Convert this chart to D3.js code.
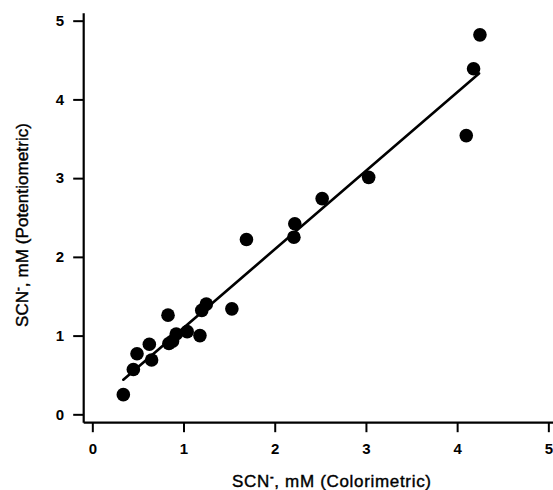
<!DOCTYPE html>
<html>
<head>
<meta charset="utf-8">
<script src="https://cdn.jsdelivr.net/npm/d3@7"></script>
<style>
  html, body { margin: 0; padding: 0; background: #fff; }
  svg { display: block; }
  text { font-family: "Liberation Sans", Arial, Helvetica, sans-serif; fill: #000; }
</style>
</head>
<body>
<svg id="chart" width="553" height="490"></svg>
<script>
// Data
const colorimetric = [0.34, 0.45, 0.49, 0.625, 0.65, 0.83, 0.84, 0.88, 0.92, 1.04, 1.18, 1.20, 1.25, 1.53, 1.69, 2.21, 2.22, 2.52, 3.03, 4.10, 4.18, 4.25];
const potentiometric = [0.25, 0.57, 0.77, 0.89, 0.69, 1.26, 0.90, 0.93, 1.02, 1.05, 1.00, 1.32, 1.40, 1.34, 2.22, 2.25, 2.42, 2.74, 3.01, 3.54, 4.39, 4.82];
const fitX = [0.34, 4.24];
const fitY = [0.44, 4.33];
const xTicks = [0, 1, 2, 3, 4, 5];
const yTicks = [0, 1, 2, 3, 4, 5];
const xTitle = ["SCN", "-", ", mM (Colorimetric)"];
const yTitle = ["SCN", "-", ", mM (Potentiometric)"];

const svg = d3.select("#chart");

const x = d3.scaleLinear().domain([-0.1, 5.05]).range([83.2, 552.9]);
const y = d3.scaleLinear().domain([-0.1, 5.1]).range([422.2, 12.8]);

// X axis
const xAxis = svg.append("g")
  .attr("transform", `translate(0,${y(-0.1)})`)
  .call(d3.axisBottom(x).tickValues(xTicks).tickFormat(d3.format("d"))
    .tickSize(10).tickSizeOuter(0).tickPadding(11));
// Y axis
const yAxis = svg.append("g")
  .attr("transform", `translate(${x(-0.1)},0)`)
  .call(d3.axisLeft(y).tickValues(yTicks).tickFormat(d3.format("d"))
    .tickSize(10).tickSizeOuter(0).tickPadding(9));

[xAxis, yAxis].forEach(g => {
  g.select(".domain").attr("stroke", "#000").attr("stroke-width", 2.2);
  g.selectAll(".tick line").attr("stroke", "#000").attr("stroke-width", 2);
  g.selectAll(".tick text")
    .attr("font-family", "'Liberation Sans', Arial, sans-serif")
    .attr("font-size", 15).attr("font-weight", "bold").attr("fill", "#000");
});

// Regression line
const fit = fitX.map((d, i) => [d, fitY[i]]);
svg.append("path")
  .datum(fit)
  .attr("fill", "none")
  .attr("stroke", "#000")
  .attr("stroke-width", 2.6)
  .attr("stroke-linecap", "round")
  .attr("d", d3.line().x(d => x(d[0])).y(d => y(d[1])));

// Points
const pts = colorimetric.map((d, i) => ({ cx: d, cy: potentiometric[i] }));
svg.append("g").selectAll("circle")
  .data(pts).join("circle")
  .attr("cx", d => x(d.cx))
  .attr("cy", d => y(d.cy))
  .attr("r", 6.8)
  .attr("fill", "#000");

// Axis titles
function title(parts, tx, ty, rot, len) {
  const t = svg.append("text")
    .attr("transform", `translate(${tx},${ty}) rotate(${rot})`)
    .attr("text-anchor", "middle")
    .attr("font-size", 17)
    .attr("stroke", "#000")
    .attr("stroke-width", 0.4)
    .attr("textLength", len)
    .attr("lengthAdjust", "spacing");
  t.append("tspan").text(parts[0]);
  t.append("tspan").attr("font-size", 11).attr("dy", -7).attr("font-weight", "bold").text(parts[1]);
  t.append("tspan").attr("dy", 7).text(parts[2]);
}
title(xTitle, 331.5, 486.5, 0, 199);
title(yTitle, 28, 225, -90, 204);
</script>
</body>
</html>
